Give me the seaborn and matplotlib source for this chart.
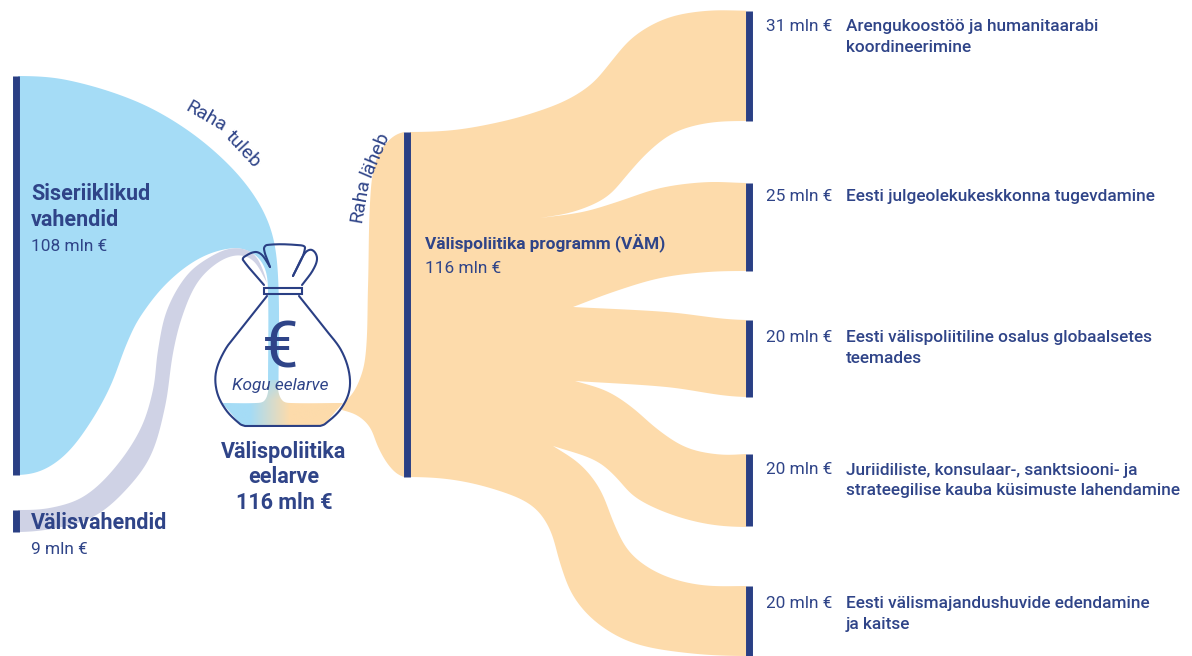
import numpy as np
import pandas as pd
import seaborn as sns
import matplotlib
matplotlib.use('Agg')
import matplotlib.pyplot as plt
from matplotlib.patches import PathPatch
from matplotlib.path import Path

# --- DATA ---
left_names = ['Siseriiklikud\nvahendid', 'Välisvahendid']
left_amounts = [108, 9]
total_amount = 116
right_amounts = [31, 25, 20, 20, 20]
right_names = [
    'Arengukoostöö ja humanitaarabi\nkoordineerimine',
    'Eesti julgeolekukeskkonna tugevdamine',
    'Eesti välispoliitiline osalus globaalsetes\nteemades',
    'Juriidiliste, konsulaar-, sanktsiooni- ja\nstrateegilise kauba küsimuste lahendamine',
    'Eesti välismajandushuvide edendamine\nja kaitse',
]

# node bars, picture pixels
node_x = [15.7, 15.7, 407.3, 748.7, 748.7, 748.7, 748.7, 748.7]
node_top = [76, 510, 132, 10.5, 183, 320, 454, 586]
node_bottom = [475, 532, 477, 121, 271, 397, 526, 656]

# ribbon outlines, picture pixels, one list per smooth edge
blue_edges = [
    [(18, 76), (67, 80), (133, 100), (183, 127), (227, 163), (257, 200), (273, 237), (278.5, 287), (278.5, 385)],
    [(268, 385), (268, 290), (265, 268), (253, 253), (233, 248), (200, 258), (167, 283), (140, 317),
     (127, 343), (110, 387), (90, 423), (67, 453), (43, 470), (18, 475)],
]
grey_edges = [
    [(18, 510), (50, 508), (83, 497), (113, 470), (140, 430), (153, 390), (158, 350), (167, 310),
     (187, 275), (210, 257), (233, 248), (253, 253), (263, 270), (267, 283)],
    [(267, 283), (253, 260), (237, 255), (217, 263), (197, 283), (182, 317), (173, 353), (165, 407),
     (150, 457), (123, 493), (93, 517), (57, 528), (18, 532)],
]
feed_edges = [
    [(342, 405), (355, 390), (365, 360), (368, 287), (370, 203), (375, 163), (387, 142), (404, 132)],
    [(404, 477), (390, 467), (378, 447), (370, 427), (357, 415), (342, 410)],
]
main_edges = [
    [(410, 132), (455, 130), (500, 122), (533, 113), (567, 100), (593, 83), (610, 63), (633, 37),
     (667, 18), (707, 10.7), (746, 10.7)],
    [(746, 121), (707, 123), (673, 133), (647, 153), (627, 175), (607, 197), (573, 212), (540, 218)],
    [(540, 218), (583, 212), (617, 202), (660, 188), (707, 182), (746, 183)],
    [(746, 271), (707, 272), (660, 278), (613, 292), (573, 307)],
    [(573, 307), (667, 312), (746, 320)],
    [(746, 397), (667, 387), (575, 381)],
    [(575, 381), (607, 391), (633, 408), (657, 429), (687, 448), (723, 455), (746, 454)],
    [(746, 527), (707, 524), (667, 513), (633, 496), (618, 479), (597, 461), (553, 446)],
    [(553, 446), (580, 464), (600, 489), (615, 526), (630, 553), (660, 574), (700, 585), (746, 586)],
    [(746, 656), (687, 653), (633, 643), (597, 623), (573, 596), (560, 563), (550, 529), (533, 506),
     (500, 491), (455, 480), (410, 477)],
]

# money bag, picture pixels
bag_body = [
    [(267, 296), (240, 330), (225, 350), (216, 372), (217, 392), (226, 410), (240, 424), (245, 426)],
    [(320, 426), (325, 424), (340, 410), (349, 392), (349, 372), (341, 350), (326, 330), (299, 296)],
]
bag_knot = [(264, 288), (302, 288), (302, 294), (264, 294)]
bag_ties = [
    [(264, 285), (243, 260), (244, 257), (255, 252), (262, 255), (270, 267)],
    [(270, 267), (264, 249), (267, 245), (297, 245), (305, 248), (293, 276)],
    [(293, 276), (305, 253), (312, 250), (317, 258), (313, 270), (302, 285)],
]
liquid_edges = [
    [(222, 403), (256, 403), (264, 401), (268, 392), (268, 380)],
    [(278.5, 380), (278.5, 392), (283, 401), (291, 403), (343, 403)],
    [(343, 403), (323, 426)],
    [(242, 426), (222, 403)],
]

NAVY = '#2a3f84'
TEXT = '#2f4488'
BLUE = '#a5dcf6'
GREY = '#cfd2e5'
ORANGE = '#fddbab'
FLAT_X = (18, 404, 410, 746)


def smooth_edge(points, sigma=0):
    # bezier pieces through the traced points, then a small gaussian along the curve to hide trace noise
    pts = np.array(points, dtype=float)
    n = len(pts)
    tang = np.zeros_like(pts)
    for i in range(n):
        if (i == 0 or i == n - 1) and pts[i, 0] in FLAT_X and n > 2:
            step = pts[min(i + 1, n - 1), 0] - pts[max(i - 1, 0), 0]
            tang[i] = (np.sign(step), 0)
        else:
            d = pts[min(i + 1, n - 1)] - pts[max(i - 1, 0)]
            tang[i] = d / np.hypot(*d)
    t = np.linspace(0, 1, 40)[:, None]
    dense = []
    for i in range(n - 1):
        chord = np.hypot(*(pts[i + 1] - pts[i]))
        a, b = pts[i], pts[i] + tang[i] * chord / 3
        c, d = pts[i + 1] - tang[i + 1] * chord / 3, pts[i + 1]
        dense.append((1 - t) ** 3 * a + 3 * (1 - t) ** 2 * t * b + 3 * (1 - t) * t ** 2 * c + t ** 3 * d)
    dense = np.vstack(dense)
    if sigma == 0:
        return dense
    # resample at 1 px steps, reflect through the ends so they stay put
    seg = np.hypot(*np.diff(dense, axis=0).T)
    s = np.r_[0, np.cumsum(seg)]
    grid = np.arange(0, s[-1], 1.0)
    line = np.column_stack([np.interp(grid, s, dense[:, 0]), np.interp(grid, s, dense[:, 1])])
    line = np.vstack([line, dense[-1]])
    pad = min(int(3 * sigma), len(line) - 1)
    head = 2 * line[0] - line[1:pad + 1][::-1]
    tail = 2 * line[-1] - line[-pad - 1:-1][::-1]
    padded = np.vstack([head, line, tail])
    x = np.arange(-pad, pad + 1)
    kernel = np.exp(-0.5 * (x / sigma) ** 2)
    kernel /= kernel.sum()
    return np.column_stack([np.convolve(padded[:, j], kernel, mode='valid') for j in range(2)])


def outline(edges, closed=True, sigma=0):
    verts = np.vstack([smooth_edge(edge, sigma) for edge in edges])
    codes = [Path.MOVETO] + [Path.LINETO] * (len(verts) - 1)
    if closed:
        verts = np.vstack([verts, verts[0]])
        codes.append(Path.CLOSEPOLY)
    return Path(verts, codes)


sns.set_theme(style='white')
plt.rcParams['font.family'] = ['Roboto', 'DejaVu Sans']

fig = plt.figure(figsize=(11.92, 6.56), dpi=100)
ax = fig.add_axes([0, 0, 1, 1])

# --- RIBBONS ---
for edges, colour, z, sigma in [(blue_edges, BLUE, 1, 5), (grey_edges, GREY, 2, 5),
                                (feed_edges, ORANGE, 1, 5), (main_edges, ORANGE, 1, 8)]:
    ax.add_patch(PathPatch(outline(edges, sigma=sigma), fc=colour, ec='none', zorder=z))

# --- LIQUID IN THE BAG ---
gx, gy = np.meshgrid(np.linspace(220, 345, 126), np.linspace(378, 428, 51))
mix = np.clip((gx - 250) / 40, 0, 1) * np.clip((gy - 372) / 28, 0, 1)
rgb_a = np.array(matplotlib.colors.to_rgb(BLUE))
rgb_b = np.array(matplotlib.colors.to_rgb(ORANGE))
img = rgb_a + (rgb_b - rgb_a) * mix[..., None]
im = ax.imshow(img, extent=(220, 345, 428, 378), zorder=3, aspect='auto')
liquid = PathPatch(outline(liquid_edges), transform=ax.transData, fc='none', ec='none')
ax.add_patch(liquid)
im.set_clip_path(liquid)

# --- BAG ---
ax.add_patch(PathPatch(outline(bag_body, closed=False), fc='none', ec=NAVY, lw=1.5, zorder=5,
                       capstyle='round', joinstyle='round'))
ax.add_patch(plt.Polygon(bag_knot, closed=True, fc='none', ec=NAVY, lw=1.5, zorder=5))
for tie in bag_ties:
    ax.add_patch(PathPatch(outline([tie], closed=False), fc='none', ec=NAVY, lw=1.5, zorder=5,
                           capstyle='round', joinstyle='round'))

# --- NODE BARS ---
nodes = pd.DataFrame({
    'node': np.repeat(np.arange(len(node_x)), 2),
    'x': np.repeat(node_x, 2),
    'y': np.column_stack([node_top, node_bottom]).ravel(),
})
sns.lineplot(data=nodes, x='x', y='y', units='node', estimator=None, sort=False, color=NAVY,
             lw=5, solid_capstyle='butt', legend=False, ax=ax, zorder=6)


def label(x, y, s, size=12.4, weight=500, **kw):
    ax.text(x, y, s, fontsize=size, fontweight=weight, color=TEXT, va='baseline', zorder=7, **kw)


# --- LEFT TEXT ---
label(31, 199.5, left_names[0].split('\n')[0], size=15.5, weight=700)
label(31, 226.5, left_names[0].split('\n')[1], size=15.5, weight=700)
label(31, 251, f'{left_amounts[0]} mln €', weight=400)
label(31, 529, left_names[1], size=15.5, weight=700)
label(31, 554, f'{left_amounts[1]} mln €', weight=400)

# --- CENTRE TEXT ---
label(284, 458, 'Välispoliitika', size=15.5, weight=700, ha='center')
label(284, 483, 'eelarve', size=15.5, weight=700, ha='center')
label(284, 509, f'{total_amount} mln €', size=15.5, weight=700, ha='center')
label(280, 368, '€', size=47, weight=400, ha='center')
label(280, 390, 'Kogu eelarve', weight=400, style='italic', ha='center')
label(425, 249, 'Välispoliitika programm (VÄM)', weight=700)
label(425, 273, f'{total_amount} mln €', weight=400)

# --- CURVED HEADERS ---
for x, y, s, rot in [(184, 110, 'Raha', -30), (224.5, 137, 'tuleb', -47),
                     (361, 223, 'Raha', 80), (370, 178, 'läheb', 67)]:
    label(x, y, s, size=14, weight=400, rotation=rot, rotation_mode='anchor')

# --- RIGHT TEXT ---
right_base = [31, 201, 342, 474.5, 608]
for base, amount, name in zip(right_base, right_amounts, right_names):
    label(766, base, f'{amount} mln €', weight=400)
    for i, line in enumerate(name.split('\n')):
        label(846, base + i * 20.7, line)

ax.set_xlim(0, 1192)
ax.set_ylim(656, 0)
ax.axis('off')

fig.savefig('out.png', dpi=100, facecolor='white')
